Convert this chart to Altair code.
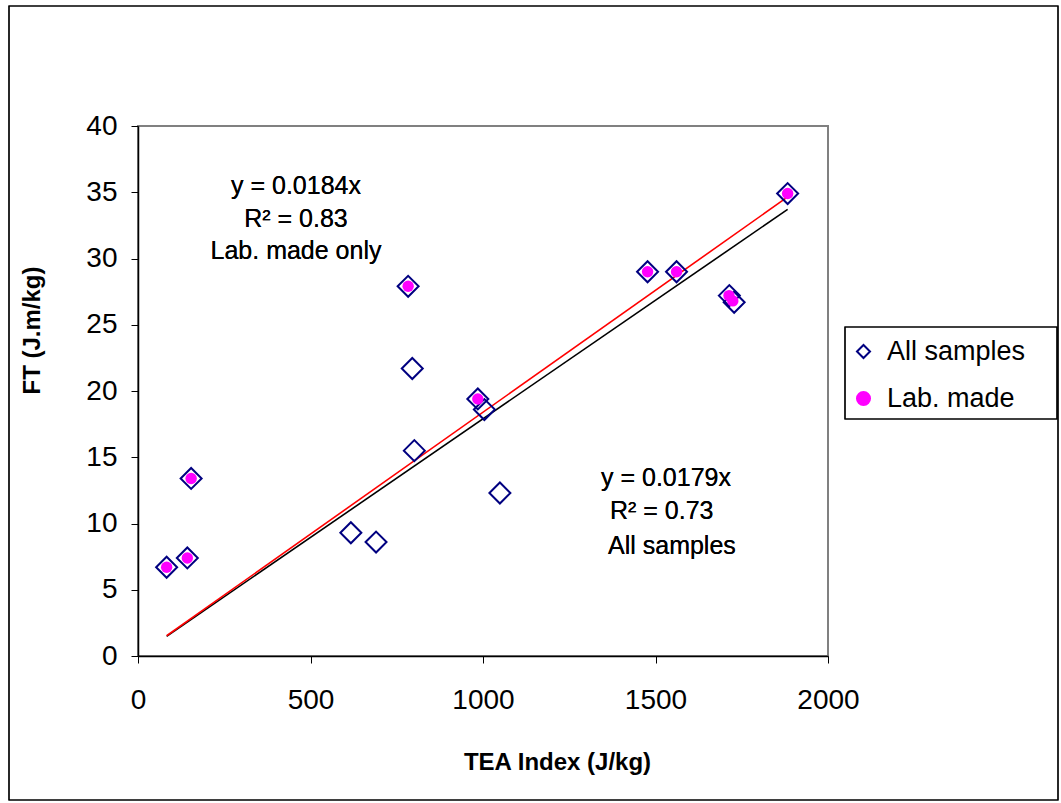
import altair as alt
import pandas as pd

# ---- values ----
tea_all = [83, 143, 154, 617, 690, 783, 795, 801, 985, 1004, 1049, 1477, 1561, 1714, 1728, 1883]
ft_all = [6.7, 7.4, 13.4, 9.3, 8.6, 27.9, 21.7, 15.5, 19.4, 18.6, 12.3, 29.0, 29.0, 27.2, 26.7, 34.9]
tea_lab = [83, 143, 154, 783, 985, 1477, 1561, 1713, 1724, 1883]
ft_lab = [6.7, 7.4, 13.4, 27.9, 19.4, 29.0, 29.0, 27.2, 26.8, 34.9]
series_names = ["All samples", "Lab. made"]
fit_range = [83, 1883]
slope_all = 0.0179
slope_lab = 0.0184
x_ticks = [0, 500, 1000, 1500, 2000]
y_ticks = [0, 5, 10, 15, 20, 25, 30, 35, 40]
ann_lab = ["y = 0.0184x", "R\u00b2 = 0.83", "Lab. made only"]
ann_all = ["y = 0.0179x", "R\u00b2 = 0.73", "All samples"]

df_all = pd.DataFrame({"tea": tea_all, "ft": ft_all, "series": series_names[0]})
df_lab = pd.DataFrame({"tea": tea_lab, "ft": ft_lab, "series": series_names[1]})
df_fit = pd.DataFrame({"tea": fit_range})

FONT = "Liberation Sans"
W, H = 690, 530

xs = alt.Scale(domain=[0, 2000], nice=False, zero=False)
ys = alt.Scale(domain=[0, 40], nice=False, zero=False)

x_axis = alt.Axis(
    values=x_ticks, format="d", title="TEA Index (J/kg)", grid=False, labelFlush=False,
    labelFont=FONT, labelFontSize=28, labelColor="black", labelPadding=23,
    titleFont=FONT, titleFontSize=24, titleFontWeight="bold", titleColor="black",
    titleX=419, titleY=106, titleBaseline="middle", titleAlign="center",
    tickSize=7, tickColor="black", domainColor="black", domainWidth=1.5,
)
y_axis = alt.Axis(
    values=y_ticks, format="d", title="FT (J.m/kg)", grid=False, labelFlush=False,
    labelFont=FONT, labelFontSize=28, labelColor="black", labelPadding=14,
    titleFont=FONT, titleFontSize=24, titleFontWeight="bold", titleColor="black",
    titleX=-106, titleY=204, titleBaseline="middle", titleAlign="center", titleAngle=270,
    tickSize=7, tickColor="black", domainColor="black", domainWidth=1.5,
)

X = alt.X("tea:Q", scale=xs, axis=x_axis)
Y = alt.Y("ft:Q", scale=ys, axis=y_axis)

shape_scale = alt.Scale(domain=series_names, range=["diamond", "circle"])
stroke_scale = alt.Scale(domain=series_names, range=["#000080", "#FF00FF"])
fill_scale = alt.Scale(domain=series_names, range=["transparent", "#FF00FF"])
legend = alt.Legend(
    title=None, orient="none", legendX=712, legendY=212, padding=0,
    labelFont=FONT, labelFontSize=27, labelColor="black", labelOffset=10,
    symbolSize=170, symbolStrokeWidth=2, symbolOpacity=1, rowPadding=19,
)

enc_series = dict(
    shape=alt.Shape("series:N", scale=shape_scale, legend=legend),
    stroke=alt.Stroke("series:N", scale=stroke_scale, legend=legend),
    fill=alt.Fill("series:N", scale=fill_scale, legend=legend),
)

line_all = alt.Chart(df_fit).transform_calculate(
    fit=f"datum.tea * {slope_all}"
).mark_line(color="black", strokeWidth=1.6).encode(
    x=X, y=alt.Y("fit:Q", scale=ys, axis=y_axis)
)
line_lab = alt.Chart(df_fit).transform_calculate(
    fit=f"datum.tea * {slope_lab}"
).mark_line(color="#FF0000", strokeWidth=1.6).encode(
    x=X, y=alt.Y("fit:Q", scale=ys, axis=y_axis)
)

diamonds = alt.Chart(df_all).mark_point(size=440, strokeWidth=2, opacity=1).encode(
    x=X, y=Y, **enc_series
)
dots = alt.Chart(df_lab).mark_point(size=130, strokeWidth=0, opacity=1).encode(
    x=X, y=Y, **enc_series
)


def text_line(txt, px, py, align):
    return alt.Chart(df_fit).mark_text(
        text=txt, font=FONT, fontSize=25, color="black", align=align, baseline="middle"
    ).encode(x=alt.value(px), y=alt.value(py))


ann = [
    text_line(ann_lab[0], 158, 60, "center"),
    text_line(ann_lab[1], 158, 93, "center"),
    text_line(ann_lab[2], 158, 125, "center"),
    text_line(ann_all[0], 463, 352, "left"),
    text_line(ann_all[1], 472, 385, "left"),
    text_line(ann_all[2], 470, 420, "left"),
]

legend_box = alt.Chart(df_fit).mark_rect(fill="transparent", stroke="black", strokeWidth=1.2).encode(
    x=alt.value(707), x2=alt.value(919), y=alt.value(201), y2=alt.value(293)
)
outer_box = alt.Chart(df_fit).mark_rect(fill="transparent", stroke="black", strokeWidth=1.2).encode(
    x=alt.value(-129), x2=alt.value(920), y=alt.value(-120), y2=alt.value(674)
)

chart = alt.layer(
    outer_box, line_all, line_lab, diamonds, dots, *ann, legend_box
).properties(
    width=W, height=H,
    autosize=alt.AutoSizeParams(type="none"),
    padding={"left": 138, "top": 126, "right": 233, "bottom": 147},
    background="white",
).configure_view(stroke="#808080", strokeWidth=2)

chart.save("out.html", embed_options={"renderer": "svg", "actions": False})
